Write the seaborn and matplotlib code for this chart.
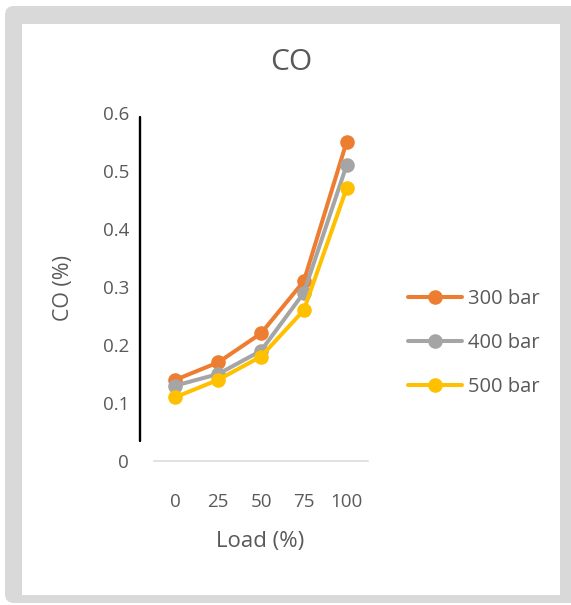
import matplotlib
matplotlib.use("Agg")
import matplotlib.pyplot as plt
import seaborn as sns
import pandas as pd
from matplotlib.patches import FancyBboxPatch, Rectangle
from matplotlib.lines import Line2D

# Engine load (%) and CO emission (%) at three injection pressures
loads = [0, 25, 50, 75, 100]
co_300 = [0.14, 0.17, 0.22, 0.31, 0.55]
co_400 = [0.13, 0.15, 0.19, 0.29, 0.51]
co_500 = [0.11, 0.14, 0.18, 0.26, 0.47]
series_names = ["300 bar", "400 bar", "500 bar"]
series_colors = ["#ED7D31", "#A5A5A5", "#FFC000"]
y_ticks = [0, 0.1, 0.2, 0.3, 0.4, 0.5, 0.6]
y_tick_labels = ["0", "0.1", "0.2", "0.3", "0.4", "0.5", "0.6"]
x_tick_labels = ["0", "25", "50", "75", "100"]

frames = []
for name, vals in zip(series_names, [co_300, co_400, co_500]):
    frames.append(pd.DataFrame({"Load": loads, "CO": vals, "Pressure": name}))
df = pd.concat(frames, ignore_index=True)

sns.set_theme(style="white")
plt.rcParams["font.family"] = ["Open Sans", "DejaVu Sans"]
TEXT = "#595959"

W, H = 571, 605
fig = plt.figure(figsize=(W / 100, H / 100), dpi=100)
fig.patch.set_facecolor("white")


def fx(px):
    return px / W


def fy(py):
    return 1 - py / H


# chart frame: grey rounded border around a white panel (pixel coordinates)
frame = FancyBboxPatch((5, H - 603), 590, 597,
                       boxstyle="round,pad=0,rounding_size=9",
                       fc="#D9D9D9", ec="none", transform=None, zorder=-3)
panel = Rectangle((22, H - 595), 538, 571, fc="white", ec="none",
                  transform=None, zorder=-2)
fig.patches.extend([frame, panel])

ax = fig.add_axes([fx(154), fy(461), fx(368) - fx(154), (461 - 113) / H])
ax.set_facecolor("none")

sns.lineplot(data=df, x="Load", y="CO", hue="Pressure",
             palette=series_colors, marker="o", markersize=10.5,
             markeredgewidth=0, linewidth=2.9, ax=ax, legend=True)

ax.set_xlim(-12.5, 112.5)
ax.set_ylim(0, 0.6)
ax.set_xticks(loads)
ax.set_xticklabels(x_tick_labels)
ax.set_yticks(y_ticks)
ax.set_yticklabels(y_tick_labels)
ax.tick_params(axis="both", length=0, labelsize=13.5, labelcolor=TEXT)
ax.tick_params(axis="y", pad=18)
ax.tick_params(axis="x", pad=23)
ax.set_xlabel("")
ax.set_ylabel("")
for side in ["top", "right", "left"]:
    ax.spines[side].set_visible(False)
ax.spines["bottom"].set_color("#D9D9D9")
ax.spines["bottom"].set_linewidth(1.1)

# vertical black rule beside the value axis
fig.add_artist(Line2D([140, 140], [H - 117, H - 441], color="black",
                      lw=1.7, transform=None))

fig.text(fx(291), fy(70), "CO", ha="center", va="baseline",
         fontsize=21.5, color=TEXT)
fig.text(fx(260), fy(547), "Load (%)", ha="center", va="baseline",
         fontsize=16, color=TEXT)
fig.text(fx(63), fy(288), "CO (%)", ha="center", va="center",
         rotation=90, fontsize=15.4, color=TEXT)

handles, labels = ax.get_legend_handles_labels()
ax.legend(handles, labels, loc="center left",
          bbox_to_anchor=(fx(408), fy(343)), bbox_transform=fig.transFigure,
          frameon=False, borderpad=0, borderaxespad=0, handlelength=2.68,
          handletextpad=0.3, labelspacing=1.2, fontsize=14.5,
          labelcolor=TEXT)

fig.savefig("out.png", dpi=100)
